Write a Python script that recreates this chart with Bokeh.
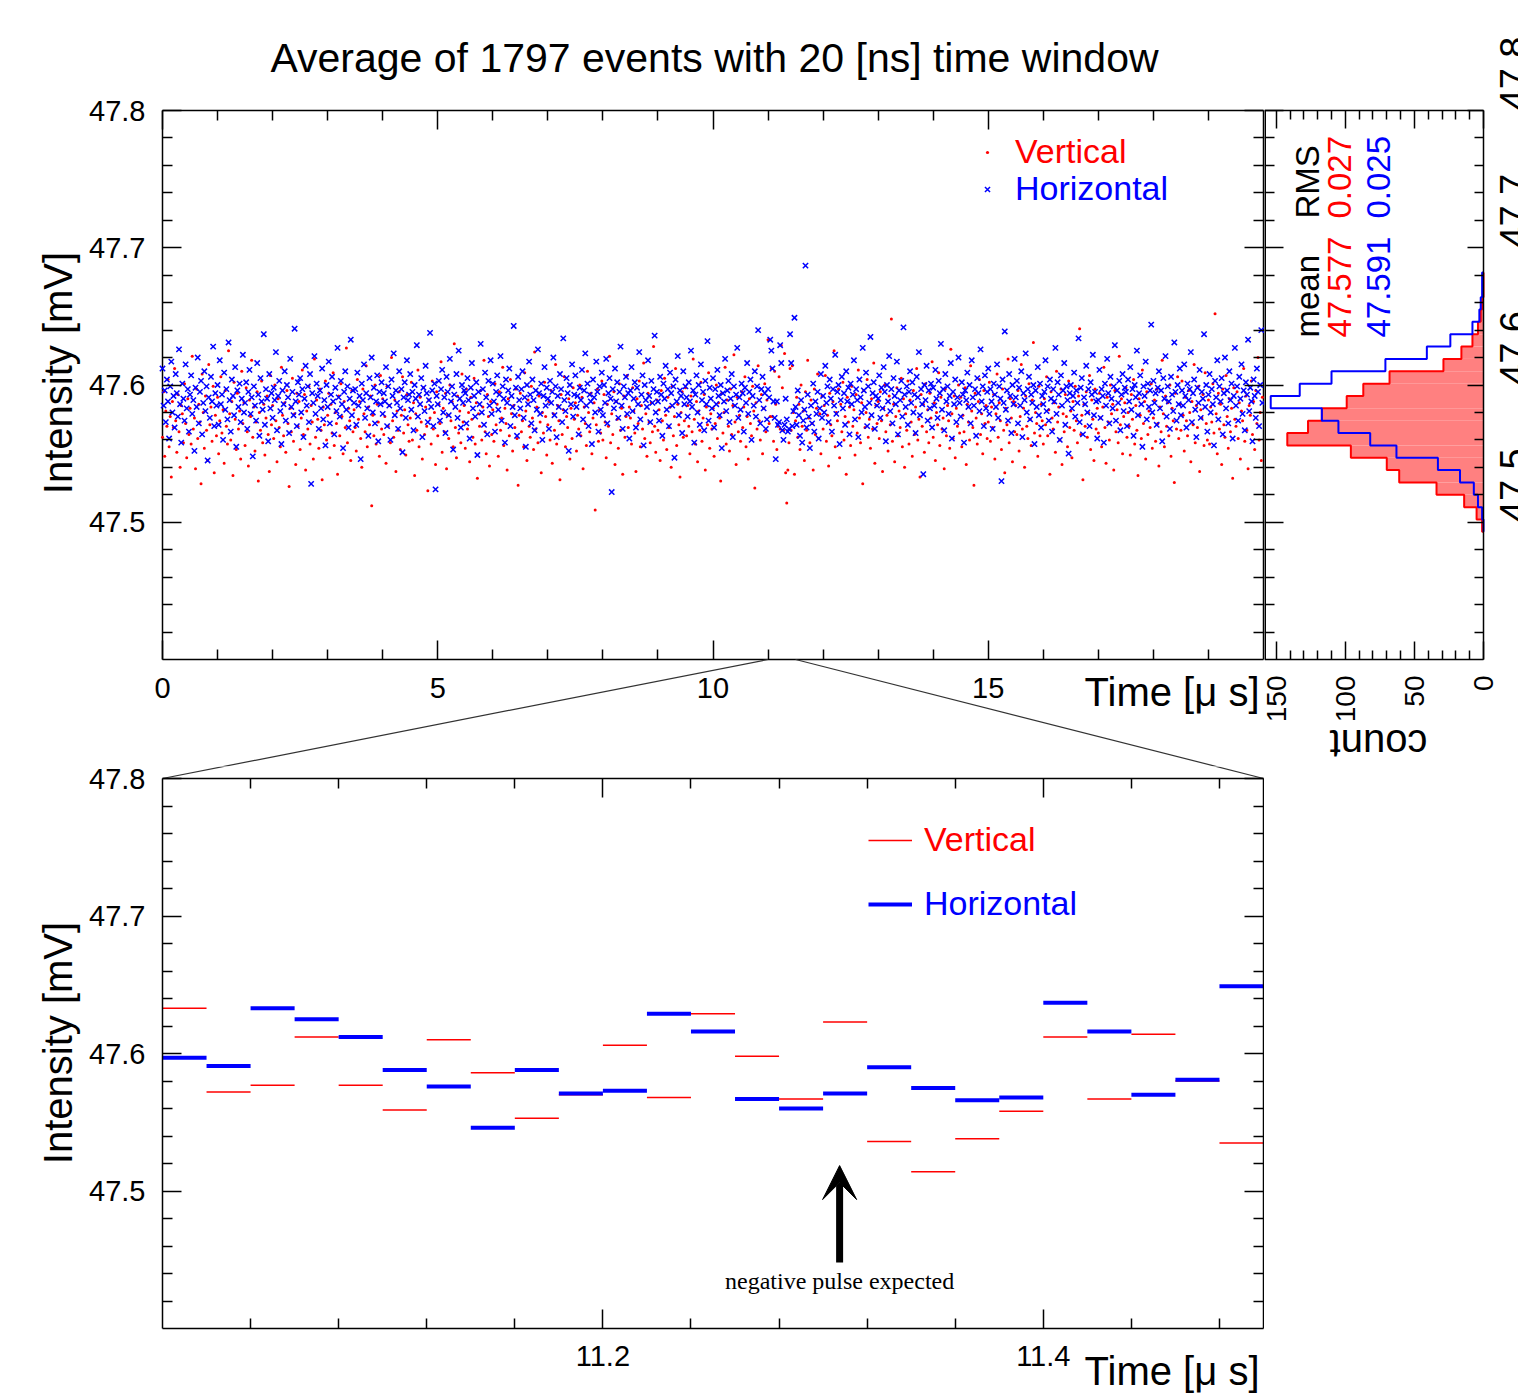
import math
import numpy as np
from bokeh.plotting import figure
from bokeh.layouts import column, row
from bokeh.models import (Range1d, FixedTicker, LinearAxis, Label, Legend,
                          LegendItem, Arrow, VeeHead)
from bokeh.core.properties import value
from bokeh.embed import file_html
from bokeh.resources import INLINE

# ---------------------------------------------------------------- data
TITLE = "Average of 1797 events with 20 [ns] time window"
BIN_NS = 20                  # time window per point
BASE_MV = 47.5               # series are stored in uV above this level
ZOOM_US = [11.0, 11.5]       # zoomed time interval (lower panel)

# Vertical polarisation, one value per 20 ns window (uV above 47.5 mV)
RED_UV = [
    62, 95, 48, 81, 70, 104, 55, 77, 33, 88, 69, 112, 74, 51, 93, 66, 40, 85, 79, 58, 101, 72, 47, 90, 64,
    83, 57, 121, 68, 76, 39, 97, 61, 86, 73, 28, 108, 80, 54, 92, 67, 45, 115, 71, 84, 59, 99, 36, 78, 63,
    91, 50, 74, 106, 65, 82, 43, 96, 70, 57, 125, 79, 60, 88, 34, 102, 75, 53, 94, 68, 81, 46, 110, 72, 87,
    56, 98, 66, 41, 89, 77, 118, 62, 84, 52, 73, 95, 30, 80, 67, 103, 58, 86, 49, 76, 92, 64, 37, 107, 71,
    85, 61, 100, 74, 44, 90, 69, 55, 113, 78, 63, 87, 51, 96, 72, 26, 83, 66, 105, 59, 79, 42, 94, 70, 88,
    53, 76, 111, 64, 93, 38, 81, 68, 99, 57, 85, 73, 46, 119, 62, 89, 75, 54, 97, 67, 31, 84, 71, 103, 60,
    78, 94, 47, 86, 65, 109, 56, 80, 72, 35, 92, 63, 101, 77, 50, 88, 69, 127, 58, 83, 74, 45, 96, 66, 82,
    69, 52, 104, 75, 88, 61, 40, 97, 79, 66, 114, 55, 84, 71, 92, 12, 78, 63, 100, 57, 86, 73, 48, 107, 68,
    90, 64, 77, 43, 99, 70, 85, 58, 120, 74, 62, 89, 37, 81, 67, 95, 53, 78, 106, 65, 82, 49, 93, 71, 59,
    76, 102, 60, 87, 34, 79, 67, 111, 55, 91, 73, 46, 98, 64, 84, 70, 23, 89, 76, 57, 103, 68, 80, 42, 95,
    63, 86, 72, 117, 51, 83, 66, 94, 39, 78, 61, 100, 74, 88, 55, 130, 69, 47, 92, 65, 81, 58, 108, 73, 85,
    54, 97, 68, 80, 44, 91, 75, 62, 105, 57, 87, 32, 79, 70, 96, 60, 84, 118, 66, 50, 93, 77, 41, 88, 64,
    82, 59, 101, 71, 86, 48, 95, 67, 76, 113, 56, 83, 72, 38, 90, 63, 104, 79, 52, 85, 69, 97, 61, 27, 78,
    94, 66, 74, 55, 109, 81, 45, 89, 70, 62, 99, 76, 53, 124, 68, 84, 58, 92, 73, 36, 80, 65, 102, 77, 49,
    71, 88, 60, 96, 43, 79, 67, 115, 57, 85, 74, 31, 93, 64, 82, 106, 55, 77, 69, 90, 46, 83, 61, 98, 75,
    87, 52, 78, 68, 100, 63, 91, 39, 84, 72, 56, 110, 80, 66, 94, 50, 76, 87, 9, 71, 97, 59, 82, 65, 103,
    60, 93, 73, 47, 86, 70, 121, 58, 79, 64, 95, 42, 88, 75, 54, 101, 67, 83, 35, 92, 62, 77, 107, 69, 84,
    76, 57, 98, 81, 65, 37, 90, 72, 103, 55, 85, 68, 116, 61, 79, 48, 94, 73, 58, 87, 66, 128, 70, 51, 89,
    67, 82, 45, 96, 74, 60, 105, 78, 53, 91, 69, 84, 40, 99, 63, 77, 112, 56, 86, 71, 33, 80, 95, 62, 74,
    98, 63, 85, 70, 50, 92, 66, 119, 75, 57, 88, 44, 81, 67, 102, 59, 76, 93, 38, 84, 71, 109, 54, 79, 68,
    83, 48, 72, 100, 61, 87, 76, 30, 94, 65, 80, 113, 57, 89, 70, 52, 97, 64, 85, 122, 73, 42, 91, 66, 78,
    59, 95, 69, 84, 106, 55, 77, 46, 90, 72, 63, 99, 81, 25, 87, 68, 114, 74, 60, 93, 50, 83, 101, 66, 89,
    133, 72, 77, 112, 77, 59, 110, 86, 53, 70, 106, 68, 129, 98, 67, 123, 36, 14, 38, 58, 112, 67, 114, 80, 35,
    74, 91, 62, 86, 53, 100, 70, 81, 45, 95, 67, 118, 76, 58, 89, 72, 38, 97, 64, 83, 108, 61, 79, 50, 92,
    68, 85, 107, 59, 78, 41, 94, 71, 63, 88, 125, 55, 80, 74, 97, 47, 86, 66, 102, 60, 77, 35, 91, 73, 84,
    56, 99, 70, 82, 49, 93, 65, 111, 76, 58, 87, 28, 96, 69, 80, 104, 62, 75, 54, 90, 68, 116, 43, 85, 72,
    88, 61, 95, 74, 37, 83, 100, 66, 78, 52, 92, 71, 148, 59, 86, 44, 77, 98, 63, 81, 69, 105, 55, 90, 40,
    79, 67, 103, 57, 89, 73, 48, 96, 64, 84, 112, 60, 75, 33, 93, 70, 86, 51, 101, 66, 82, 58, 94, 76, 117,
    62, 87, 45, 80, 71, 109, 56, 91, 68, 76, 39, 97, 63, 85, 74, 54, 126, 79, 61, 92, 47, 83, 70, 100, 65,
    91, 55, 78, 66, 98, 42, 86, 73, 60, 114, 81, 69, 27, 94, 76, 57, 88, 104, 64, 79, 50, 96, 72, 85, 61,
    73, 102, 59, 84, 69, 93, 46, 79, 108, 62, 87, 74, 53, 97, 67, 36, 83, 71, 119, 58, 90, 76, 44, 88, 66,
    85, 64, 96, 52, 77, 115, 68, 83, 40, 92, 70, 61, 101, 75, 56, 89, 131, 65, 80, 72, 48, 99, 63, 86, 74,
    57, 90, 71, 106, 63, 82, 35, 95, 76, 68, 87, 51, 110, 73, 84, 60, 97, 42, 79, 66, 93, 77, 55, 103, 69,
    81, 47, 88, 67, 99, 74, 58, 92, 141, 64, 78, 31, 86, 70, 95, 62, 80, 107, 53, 89, 75, 45, 97, 68, 83,
    65, 94, 76, 55, 84, 113, 69, 43, 91, 73, 60, 100, 79, 86, 38, 96, 66, 82, 58, 121, 71, 90, 50, 77, 87,
    98, 62, 80, 70, 49, 93, 75, 104, 57, 85, 67, 34, 90, 78, 61, 111, 72, 88, 46, 95, 64, 81, 69, 101, 54,
    76, 89, 59, 97, 72, 41, 84, 66, 118, 79, 55, 92, 70, 87, 63, 100, 48, 83, 74, 29, 94, 68, 106, 61, 86,
    67, 103, 78, 52, 91, 74, 63, 96, 80, 44, 88, 71, 115, 58, 85, 69, 99, 37, 82, 76, 93, 56, 109, 72, 60,
    89, 57, 84, 73, 101, 65, 152, 79, 50, 94, 68, 86, 42, 97, 71, 62, 107, 77, 54, 90, 66, 83, 32, 98, 75,
    70, 95, 61, 87, 46, 81, 74, 112, 59, 92, 67, 39, 85, 78, 103, 64, 88, 53, 96, 72, 120, 60, 80, 45, 91,
]

# Horizontal polarisation (uV above 47.5 mV)
BLUE_UV = [
    112, 85, 96, 73, 104, 88, 61, 99, 117, 80, 92, 69, 108, 94, 77, 126, 86, 58, 101, 90, 74, 115, 83, 97, 66,
    93, 107, 79, 89, 52, 98, 84, 120, 72, 95, 103, 64, 87, 110, 81, 99, 45, 91, 76, 106, 88, 128, 70, 94, 85,
    100, 71, 118, 86, 93, 60, 109, 82, 97, 75, 131, 89, 66, 104, 92, 78, 113, 55, 96, 84, 101, 73, 90, 122, 80,
    87, 102, 68, 95, 111, 79, 91, 48, 99, 85, 74, 116, 93, 63, 105, 88, 82, 137, 71, 97, 90, 59, 108, 83, 94,
    76, 98, 89, 124, 67, 92, 103, 81, 57, 96, 86, 110, 74, 100, 91, 65, 119, 84, 95, 78, 141, 88, 70, 102, 93,
    105, 80, 97, 62, 90, 114, 85, 99, 73, 108, 28, 94, 87, 121, 79, 101, 92, 68, 96, 83, 112, 75, 89, 56, 100,
    84, 117, 72, 93, 106, 88, 64, 98, 81, 127, 91, 77, 103, 86, 54, 95, 110, 82, 99, 69, 90, 133, 78, 96, 87,
    97, 71, 109, 85, 92, 46, 101, 89, 115, 76, 94, 83, 63, 105, 91, 120, 80, 98, 72, 88, 107, 59, 95, 86, 102,
    79, 94, 88, 113, 70, 99, 85, 60, 104, 92, 123, 78, 96, 87, 68, 110, 83, 97, 51, 91, 102, 76, 118, 89, 93,
    108, 82, 95, 67, 100, 90, 129, 77, 93, 86, 105, 62, 98, 81, 114, 94, 73, 89, 138, 84, 96, 70, 101, 24, 92,
    86, 103, 74, 97, 111, 80, 91, 65, 106, 95, 78, 119, 88, 99, 53, 93, 84, 108, 76, 125, 90, 69, 100, 87, 96,
    94, 72, 105, 89, 61, 98, 116, 83, 92, 77, 102, 49, 95, 86, 130, 80, 97, 71, 109, 91, 64, 103, 85, 118, 79,
    101, 88, 66, 95, 107, 82, 93, 121, 74, 99, 90, 58, 104, 87, 96, 112, 70, 92, 84, 143, 78, 98, 63, 106, 89,
    83, 97, 110, 76, 91, 55, 100, 86, 117, 93, 72, 104, 89, 67, 96, 82, 126, 94, 79, 101, 60, 92, 113, 85, 98,
    90, 68, 103, 87, 95, 120, 78, 99, 62, 92, 84, 108, 97, 73, 134, 89, 81, 105, 94, 52, 100, 86, 115, 77, 93,
    107, 84, 92, 64, 98, 89, 111, 75, 96, 123, 85, 101, 70, 93, 88, 57, 104, 91, 80, 117, 95, 66, 99, 82, 109,
    78, 100, 87, 119, 72, 94, 105, 90, 22, 97, 83, 112, 88, 102, 76, 95, 128, 85, 68, 99, 91, 106, 79, 94, 61,
    96, 113, 81, 90, 102, 69, 98, 86, 124, 75, 93, 107, 56, 100, 89, 84, 118, 92, 73, 103, 87, 97, 136, 80, 95,
    88, 74, 106, 93, 63, 101, 90, 114, 82, 97, 70, 109, 94, 85, 99, 47, 104, 88, 121, 78, 96, 92, 65, 110, 86,
    99, 91, 77, 102, 88, 125, 84, 96, 58, 93, 107, 80, 100, 71, 115, 89, 95, 67, 103, 86, 132, 74, 98, 90, 83,
    105, 69, 97, 86, 111, 92, 78, 100, 54, 94, 88, 119, 81, 96, 103, 73, 90, 108, 62, 99, 85, 93, 127, 76, 91,
    82, 101, 94, 66, 98, 87, 116, 79, 95, 104, 60, 92, 85, 110, 77, 99, 140, 89, 72, 97, 106, 83, 94, 68, 75,
    97, 91, 133, 125, 112, 88, 76, 46, 88, 71, 73, 129, 116, 67, 60, 71, 90, 75, 66, 68, 137, 116, 70, 81, 149,
    84, 71, 96, 78, 63, 89, 58, 74, 82, 187, 69, 93, 77, 54, 85, 72, 101, 66, 88, 79, 95, 61, 83, 108, 76,
    92, 80, 114, 87, 99, 73, 104, 90, 66, 97, 85, 122, 79, 95, 100, 57, 89, 106, 83, 94, 71, 110, 88, 98, 64,
    101, 86, 93, 118, 75, 97, 89, 62, 104, 91, 80, 127, 96, 84, 109, 70, 99, 87, 135, 78, 94, 102, 68, 92, 85,
    90, 107, 76, 98, 83, 113, 95, 59, 100, 88, 121, 81, 97, 72, 105, 92, 86, 117, 64, 96, 89, 103, 77, 142, 93,
    84, 99, 71, 95, 110, 87, 102, 80, 93, 65, 106, 91, 124, 78, 97, 86, 35, 100, 89, 114, 74, 96, 83, 101, 69,
    98, 85, 111, 90, 76, 103, 94, 130, 82, 97, 67, 108, 88, 99, 79, 92, 116, 61, 95, 86, 104, 73, 91, 120, 87,
    77, 102, 93, 58, 96, 89, 109, 84, 100, 72, 118, 91, 85, 97, 63, 105, 94, 81, 126, 88, 99, 70, 107, 83, 95,
    112, 79, 97, 88, 68, 101, 93, 84, 115, 76, 99, 90, 30, 104, 87, 139, 82, 96, 74, 108, 92, 65, 100, 86, 119,
    91, 103, 72, 98, 85, 110, 62, 94, 89, 123, 80, 97, 106, 75, 93, 87, 100, 57, 96, 84, 113, 78, 101, 69, 92,
    86, 95, 118, 81, 99, 74, 104, 90, 66, 97, 88, 127, 79, 102, 93, 60, 107, 85, 96, 116, 71, 99, 89, 50, 94,
    100, 83, 92, 109, 77, 96, 87, 134, 73, 98, 105, 64, 91, 86, 114, 80, 97, 70, 102, 93, 122, 78, 95, 88, 61,
    89, 111, 76, 97, 92, 58, 101, 85, 119, 94, 72, 106, 90, 83, 99, 129, 74, 96, 87, 103, 67, 93, 108, 81, 98,
    95, 70, 104, 88, 113, 82, 97, 63, 100, 91, 125, 78, 94, 107, 86, 55, 99, 92, 117, 75, 101, 84, 96, 144, 80,
    103, 87, 94, 71, 98, 110, 83, 96, 59, 105, 90, 121, 77, 99, 88, 68, 106, 93, 81, 131, 95, 74, 100, 86, 112,
    78, 96, 85, 115, 92, 69, 101, 89, 97, 124, 73, 94, 104, 82, 62, 98, 87, 111, 76, 95, 90, 137, 84, 100, 66,
    93, 108, 80, 97, 86, 56, 103, 91, 118, 75, 99, 88, 105, 64, 94, 120, 83, 96, 72, 110, 89, 101, 61, 92, 127,
    85, 99, 74, 106, 90, 115, 79, 96, 67, 102, 93, 133, 81, 98, 88, 59, 104, 92, 76, 112, 95, 70, 100, 140, 87,
]

# projected histograms (counts per 0.009 mV bin, first bin starts at HIST_LOW)
HIST_LOW = 47.493
HIST_BIN = 0.009
RED_COUNTS = [1, 5, 14, 34, 61, 70, 96, 142, 127, 117, 99, 87, 68, 29, 16, 8, 4, 2, 1, 0, 0]
BLUE_COUNTS = [0, 1, 4, 7, 17, 33, 63, 82, 105, 117, 154, 133, 110, 71, 41, 24, 8, 3, 2, 1, 1]

STAT_NAMES = ["mean", "RMS"]
RED_STATS = ["47.577", "0.027"]
BLUE_STATS = ["47.591", "0.025"]

Y_LO, Y_HI = 47.4, 47.8
Y_TICKS = [47.5, 47.6, 47.7, 47.8]
X_TICKS_TOP = [0, 5, 10, 15]
X_TICKS_BOT = [11.2, 11.4]
COUNT_TICKS = [0, 50, 100, 150]
COUNT_MAX = 158.5
X_SPAN = 20.0

ARROW_T_US = 11.3075
ARROW_FROM, ARROW_TO = 47.448, 47.5185
NOTE_Y = 47.4345
NOTE = "negative pulse expected"

# ---------------------------------------------------------------- page geometry (px)
PAGE_H = 1394
W_MAIN, W_HIST = 1264, 254
H_TOP = 766
H_BOT = PAGE_H - H_TOP
BOX_L, BOX_R = 162, 1263          # left/right edge of both ROOT frames
TOP_BOX_T, TOP_BOX_B = 110, 659   # page y of 47.8 / 47.4, upper panel
BOT_BOX_T, BOT_BOX_B = 778, 1328  # page y of 47.8 / 47.4, zoom panel
HIST_ZERO = 219                   # count 0, from the left of the histogram

# ---------------------------------------------------------------- derived
w_us = BIN_NS / 1000.0
red_mv = BASE_MV + np.array(RED_UV) / 1000.0
blue_mv = BASE_MV + np.array(BLUE_UV) / 1000.0
t_red = np.arange(len(red_mv)) * w_us
t_blue = np.arange(len(blue_mv)) * w_us
DY = Y_HI - Y_LO
GAP_PX = BOT_BOX_T - TOP_BOX_B

FONT = "Liberation Sans"
RED, BLUE = "#ff0000", "#0000ff"

sx_top = X_SPAN / (BOX_R - BOX_L)
sy_top = DY / (TOP_BOX_B - TOP_BOX_T)
TOP_X = Range1d(-BOX_L * sx_top, X_SPAN + (W_MAIN - BOX_R) * sx_top)
TOP_Y = Range1d(Y_LO - (H_TOP - TOP_BOX_B) * sy_top, Y_HI + TOP_BOX_T * sy_top)
HIST_X = Range1d(COUNT_MAX, -(W_HIST - HIST_ZERO) * COUNT_MAX / HIST_ZERO)
HIST_Y = Range1d(TOP_Y.start, TOP_Y.end)
zw = ZOOM_US[1] - ZOOM_US[0]
sx_bot = zw / (BOX_R - BOX_L)
sy_bot = DY / (BOT_BOX_B - BOT_BOX_T)
BOT_X = Range1d(ZOOM_US[0] - BOX_L * sx_bot, ZOOM_US[1] + (W_MAIN - BOX_R) * sx_bot)
BOT_Y = Range1d(Y_LO - (PAGE_H - BOT_BOX_B) * sy_bot, Y_HI + (BOT_BOX_T - H_TOP) * sy_bot)


def minors(lo, hi, step, majors):
    n = int(round((hi - lo) / step))
    out = []
    for k in range(1, n):
        v = round(lo + k * step, 6)
        if all(abs(v - m) > 1e-9 for m in majors):
            out.append(v)
    return out


Y_MINOR = minors(Y_LO, Y_HI, 0.02, Y_TICKS)


def add_axis(p, side, fixed, ticks, minor, size=None, standoff=0, orient=None,
             maj=19, mnr=10):
    ax = LinearAxis(ticker=FixedTicker(ticks=ticks, minor_ticks=minor))
    ax.fixed_location = fixed
    ax.axis_line_color = None
    ax.major_tick_in = maj
    ax.major_tick_out = 0
    ax.minor_tick_in = mnr
    ax.minor_tick_out = 0
    for a in ("major_tick_line", "minor_tick_line"):
        setattr(ax, a + "_color", "black")
        setattr(ax, a + "_width", 1.5)
    if size is None:
        ax.major_label_overrides = {t: "" for t in ticks}
        ax.major_label_text_font_size = "1px"
        ax.major_label_standoff = 0
    else:
        ax.major_label_text_font_size = size
        ax.major_label_text_font = FONT
        ax.major_label_text_color = "black"
        ax.major_label_standoff = standoff
    if orient is not None:
        ax.major_label_orientation = orient
    p.add_layout(ax, side)
    return ax


def base_fig(w, h, xr, yr):
    p = figure(width=w, height=h, x_range=xr, y_range=yr,
               output_backend="svg", toolbar_location=None,
               x_axis_location=None, y_axis_location=None,
               min_border_left=0, min_border_right=0,
               min_border_top=0, min_border_bottom=0)
    p.grid.visible = False
    p.outline_line_color = None
    p.background_fill_color = "white"
    p.border_fill_color = "white"
    return p


def box(p, x0, x1, widths):
    # ROOT frame: left, right, bottom, top edges
    wl, wr, wb, wt = widths
    p.segment(x0=[x0, x1, x0, x0], y0=[Y_LO, Y_LO, Y_LO, Y_HI],
              x1=[x0, x1, x1, x1], y1=[Y_HI, Y_HI, Y_LO, Y_HI],
              line_color="black", line_width=[wl, wr, wb, wt])


def text(p, x, y, s, size, color="black", angle=0.0, align="left",
         baseline="middle", font=FONT, units="screen"):
    p.add_layout(Label(x=x, y=y, x_units=units, y_units=units, text=s,
                       angle=angle, text_align=align, text_baseline=baseline,
                       text_font=font, text_font_size=size,
                       text_color=color))


def legend(p, renderer, label, color, loc, gw, standoff):
    lg = Legend(items=[LegendItem(label=value(label), renderers=[renderer])],
                location=loc, padding=0, margin=0, spacing=0,
                glyph_width=gw, glyph_height=38, label_height=38,
                label_standoff=standoff, label_text_font=FONT,
                label_text_font_size="34px", label_text_color=color,
                background_fill_alpha=0, border_line_alpha=0)
    p.add_layout(lg)


# ---------------------------------------------------------------- top panel
top = base_fig(W_MAIN, H_TOP, TOP_X, TOP_Y)
x_minor_top = minors(0, 20, 1, X_TICKS_TOP + [20])
add_axis(top, "below", Y_LO, X_TICKS_TOP, x_minor_top, "29px", 18)
add_axis(top, "above", Y_HI, X_TICKS_TOP, x_minor_top)
add_axis(top, "left", 0, Y_TICKS, Y_MINOR, "29px", 17)
add_axis(top, "right", X_SPAN, Y_TICKS, Y_MINOR)
box(top, 0, X_SPAN, (1.5, 1.5, 1.5, 1.5))

r_red = top.scatter(t_red, red_mv, marker="circle", size=3,
                    fill_color=RED, line_color=None)
r_blue = top.scatter(t_blue, blue_mv, marker="x", size=7.5,
                     line_color=BLUE, line_width=1.5)

legend(top, r_red, "Vertical", RED, (983, 607 - (778 - H_TOP)), 8, 24)
legend(top, r_blue, "Horizontal", BLUE, (978, 570 - (778 - H_TOP)), 18, 19)

text(top, 714, H_TOP - 57, TITLE, "41px", align="center")
text(top, 57, H_TOP - 372.5, "Intensity [mV]", "40px", angle=math.pi / 2, align="center")
text(top, 1259, H_TOP - 691, "Time [\u03bc s]", "40px", align="right")

# connector lines from the zoomed interval down to the zoom panel corners
y_corner = Y_LO - GAP_PX * sy_top
top.segment(x0=ZOOM_US, y0=[Y_LO, Y_LO], x1=[0, X_SPAN], y1=[y_corner, y_corner],
            line_color="#333333", line_width=1.2)

# ---------------------------------------------------------------- histogram
hist = base_fig(W_HIST, H_TOP, HIST_X, HIST_Y)
c_minor = minors(0, 160, 10, COUNT_TICKS)
add_axis(hist, "below", Y_LO, COUNT_TICKS, c_minor, "28px", 16, math.pi / 2, 18, 9)
add_axis(hist, "above", Y_HI, COUNT_TICKS, c_minor, maj=18, mnr=9)
add_axis(hist, "left", COUNT_MAX, Y_TICKS, Y_MINOR)
add_axis(hist, "right", 0, Y_TICKS, Y_MINOR, "38px", 30, math.pi / 2, 16, 9)

edges = HIST_LOW + HIST_BIN * np.arange(len(RED_COUNTS) + 1)
centers = edges[:-1] + HIST_BIN / 2
hist.hbar(y=centers, left=0, right=RED_COUNTS, height=HIST_BIN,
          fill_color="#ff8080", line_color=None)


def step_outline(counts):
    xs, ys = [0], [edges[0]]
    for i, c in enumerate(counts):
        xs += [c, c]
        ys += [edges[i], edges[i + 1]]
    xs.append(0)
    ys.append(edges[-1])
    return xs, ys


for counts, col in ((RED_COUNTS, RED), (BLUE_COUNTS, BLUE)):
    xs, ys = step_outline(counts)
    hist.line(xs, ys, line_color=col, line_width=2)

box(hist, COUNT_MAX, 0, (3, 1.5, 1.5, 1.5))

rot = math.pi / 2
for j, (name, rs, bs) in enumerate(zip(STAT_NAMES, RED_STATS, BLUE_STATS)):
    y0 = H_TOP - 337 + j * 119
    text(hist, 43, y0, name, "33px", angle=rot)
    text(hist, 75, y0, rs, "33px", color=RED, angle=rot)
    text(hist, 114, y0, bs, "33px", color=BLUE, angle=rot)
text(hist, 114, H_TOP - 743, "count", "40px", angle=math.pi, align="center")

# ---------------------------------------------------------------- zoom panel
bot = base_fig(W_MAIN, H_BOT, BOT_X, BOT_Y)
x_minor_bot = [v for v in minors(11.0, 11.52, 0.04, X_TICKS_BOT) if v < ZOOM_US[1]]
add_axis(bot, "below", Y_LO, X_TICKS_BOT, x_minor_bot, "29px", 17)
add_axis(bot, "above", Y_HI, X_TICKS_BOT, x_minor_bot)
add_axis(bot, "left", ZOOM_US[0], Y_TICKS, Y_MINOR, "29px", 17)
add_axis(bot, "right", ZOOM_US[1], Y_TICKS, Y_MINOR)

sel = (t_red > ZOOM_US[0] - 1e-9) & (t_red < ZOOM_US[1] - 1e-9)
tz = t_red[sel]
s_red = bot.segment(x0=tz, y0=red_mv[sel], x1=tz + w_us, y1=red_mv[sel],
                    line_color=RED, line_width=1.5)
selb = (t_blue > ZOOM_US[0] - 1e-9) & (t_blue < ZOOM_US[1] - 1e-9)
tzb = t_blue[selb]
s_blue = bot.segment(x0=tzb, y0=blue_mv[selb], x1=tzb + w_us, y1=blue_mv[selb],
                     line_color=BLUE, line_width=4)
box(bot, ZOOM_US[0], ZOOM_US[1], (1.5, 1.5, 1.5, 1.5))

# upper part of the connector lines (continues those of the upper panel)
y_top_pt = Y_HI + GAP_PX * sy_bot
x_top_pts = [ZOOM_US[0] + zw * t / X_SPAN for t in ZOOM_US]
bot.segment(x0=ZOOM_US, y0=[Y_HI, Y_HI], x1=x_top_pts, y1=[y_top_pt, y_top_pt],
            line_color="#333333", line_width=1.2)

legend(bot, s_red, "Vertical", RED, (868, 535), 44, 12)
legend(bot, s_blue, "Horizontal", BLUE, (868, 471), 44, 12)

text(bot, 57, PAGE_H - 1042.5, "Intensity [mV]", "40px", angle=math.pi / 2, align="center")
text(bot, 1259, PAGE_H - 1370, "Time [\u03bc s]", "40px", align="right")

bot.add_layout(Arrow(end=VeeHead(size=34, fill_color="black", line_color="black"),
                     x_start=ARROW_T_US, y_start=ARROW_FROM, x_end=ARROW_T_US,
                     y_end=ARROW_TO, line_color="black", line_width=7))
text(bot, ARROW_T_US, NOTE_Y, NOTE, "24px", align="center",
     font="Liberation Serif", units="data")

layout = column(row(top, hist), bot)
open("out.html", "w").write(file_html(layout, INLINE))
